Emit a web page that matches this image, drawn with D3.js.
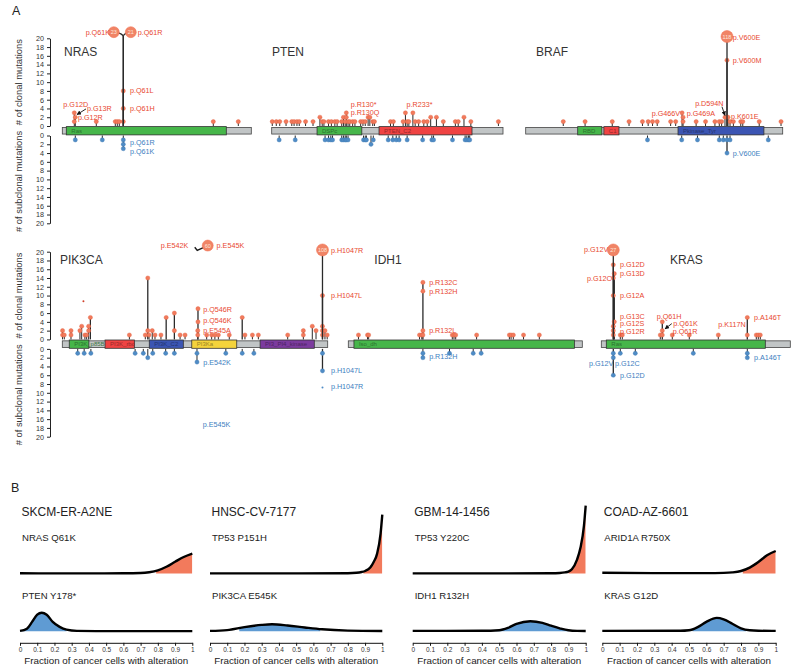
<!DOCTYPE html>
<html><head><meta charset="utf-8">
<script src="https://cdn.jsdelivr.net/npm/d3@7"></script>
<style>body{margin:0;background:#fff}svg{display:block}text{font-family:"Liberation Sans",Arial,Helvetica,sans-serif}</style>
</head><body><svg id="c" width="800" height="670"></svg>
<script>
// ================= DATA =================
const genes = ["NRAS","PTEN","BRAF","PIK3CA","IDH1","KRAS"];
const proteinLengths = [189,403,766,1068,414,189];
const domains = [
 ["NRAS","Ras",4,164,"green"],
 ["PTEN","DSPc",79,157,"green"],
 ["PTEN","PTEN_C2",187,349,"red"],
 ["BRAF","RBD",155,227,"green"],
 ["BRAF","C1",233,278,"red"],
 ["BRAF","Pkinase_Tyr",454,710,"blue"],
 ["PIK3CA","PI3K_p85B",28,107,"green"],
 ["PIK3CA","PI3K_rbd",172,290,"red"],
 ["PIK3CA","PI3K_C2",350,487,"blue"],
 ["PIK3CA","PI3Ka",521,702,"yellow"],
 ["PIK3CA","PI3_PI4_kinase",796,1014,"purple"],
 ["IDH1","Iso_dh",10,400,"green"],
 ["KRAS","Ras",5,164,"green"]
];
const yTicks = [0,2,4,6,8,10,12,14,16,18,20];

// [amino-acid position, number of mutations]
const nrasClonal = [[12,3],[13,2],[12,1],[34,1],[53,1],[55,1],[57,1],[61,1],[61,4],[61,8],[151,1],[176,1]];
const nrasSub = [[13,1],[40,1],[61,1],[61,2],[61,3]];
const ptenClonal = [[1,1],[8,1],[14,1],[25,1],[35,1],[39,1],[44,1],[48,1],[59,1],[72,1],[84,2],[88,1],[91,1],[99,1],[104,1],[110,1],[114,1],[122,1],[125,2],[128,1],[130,3],[130,2],[133,1],[136,1],[141,1],[145,1],[155,1],[159,1],[163,1],[168,2],[171,2],[176,1],[179,1],[207,1],[212,1],[229,1],[233,3],[236,1],[239,1],[246,3],[250,1],[256,1],[265,1],[271,1],[277,2],[287,2],[299,1],[320,1],[325,1],[335,2],[347,1],[395,1]];
const ptenSub = [[13,1],[41,1],[93,1],[99,1],[103,1],[106,1],[122,1],[125,1],[128,1],[130,1],[133,1],[160,1],[163,1],[165,1],[173,2],[177,1],[203,1],[211,1],[217,1],[222,1],[236,1],[263,1],[279,1],[282,1],[315,1],[337,1],[340,1],[343,1],[345,1]];
const brafClonal = [[112,1],[177,1],[258,1],[308,1],[348,1],[365,1],[378,1],[392,1],[432,1],[447,1],[466,3],[469,2],[469,1],[508,1],[536,1],[564,1],[577,1],[584,1],[594,2],[600,2],[600,15],[603,2],[609,1],[619,1],[641,1],[647,1],[696,1],[761,1]];
const brafSub = [[363,1],[465,1],[512,1],[577,1],[589,1],[600,1],[600,4],[609,1],[723,1]];
const pik3caClonal = [[1,2],[1,1],[8,1],[35,2],[35,1],[71,2],[78,3],[91,1],[98,1],[106,3],[106,2],[113,5],[270,1],[334,1],[344,14],[344,2],[349,1],[362,2],[373,1],[397,1],[418,5],[451,6],[451,2],[474,1],[494,1],[545,1],[545,2],[546,4],[546,7],[581,1],[601,1],[614,1],[628,1],[672,1],[724,5],[735,1],[765,1],[789,1],[907,1],[970,2],[970,1],[1006,3],[1021,2],[1047,10],[1047,3],[1047,2],[1047,1],[1057,2],[1066,1]];
const pik3caSub = [[62,1],[88,1],[115,1],[293,1],[326,1],[344,2],[364,1],[416,1],[451,1],[542,1],[542,3],[658,1],[724,1],[771,1],[1047,1],[1047,5]];
const pik3caFaint = [["c",85,8.7],["s",1047,8.8]];
const idh1Clonal = [[18,1],[34,1],[36,1],[126,1],[130,1],[132,13],[132,11],[132,2],[132,1],[184,1],[187,1],[190,1],[227,1],[285,1],[288,1],[292,1],[310,1],[338,1]];
const idh1Sub = [[132,1],[132,2],[179,1],[221,1],[235,1]];
const krasClonal = [[12,17],[13,15],[12,14],[12,10],[13,4],[12,3],[12,2],[12,1],[19,1],[21,1],[59,1],[61,4],[61,2],[61,1],[71,1],[88,1],[117,1],[146,5],[146,1],[155,1],[157,1],[159,1]];
const krasSub = [[12,1],[12,2],[12,6],[19,1],[34,1],[92,1],[146,1],[146,2]];

// hotspots above the axis: [gene, name, position, count, drawn without stem]
const bigMutations = [
 ["NRAS","Q61K",61,23,0],["NRAS","Q61R",61,21,0],
 ["BRAF","V600E",600,118,0],
 ["PIK3CA","E545K",545,60,1],["PIK3CA","H1047R",1047,108,0],
 ["KRAS","G12V",12,27,0]
];

// annotations: [text, position, count level, anchor, track]
const nrasLabels = [["p.G12D",1,4.8,"start","c"],["p.G13R",24.7,3.9,"start","c"],["p.G12R",15.7,2,"start","c"],["p.Q61L",67.7,8,"start","c"],["p.Q61H",67.7,4,"start","c"],["p.Q61K",47.7,21.4,"end","c"],["p.Q61R",75.4,21.4,"start","c"],["p.Q61R",67.7,1.7,"start","s"],["p.Q61K",67.7,3.6,"start","s"]];
const ptenLabels = [["p.R130*",137.6,4.9,"start","c"],["p.R130Q",137.6,3.1,"start","c"],["p.R233*",235,4.8,"start","c"]];
const brafLabels = [["p.V600E",617,20.1,"start","c"],["p.V600M",617,15,"start","c"],["p.G466V",460,2.9,"end","c"],["p.G469A",480,2.9,"start","c"],["p.D594N",505,5.2,"start","c"],["p.K601E",612,2.1,"start","c"],["p.V600E",617,4,"start","s"]];
const pik3caLabels = [["p.E542K",507,21.5,"end","c"],["p.E545K",621,21.5,"start","c"],["p.H1047R",1081,20.2,"start","c"],["p.H1047L",1081,10,"start","c"],["p.Q546R",567,6.9,"start","c"],["p.Q546K",567,4.3,"start","c"],["p.E545A",567,2.1,"start","c"],["p.E542K",567,3,"start","s"],["p.H1047L",1081,5,"start","s"],["p.H1047R",1081,8.6,"start","s"],["p.E545K",565,17.2,"start","s"]];
const idh1Labels = [["p.R132C",143,13,"start","c"],["p.R132H",143,11,"start","c"],["p.R132L",143,2,"start","c"],["p.R132H",143,1.8,"start","s"]];
const krasLabels = [["p.G12V",7,20.4,"end","c"],["p.G12D",18.7,17.1,"start","c"],["p.G13D",18.7,15,"start","c"],["p.G12C",10.4,14,"end","c"],["p.G12A",18.7,10,"start","c"],["p.G13C",18.7,5.3,"start","c"],["p.G12S",18.7,3.6,"start","c"],["p.G12R",18.7,1.9,"start","c"],["p.Q61H",55.4,5.3,"start","c"],["p.Q61K",72,3.7,"start","c"],["p.Q61R",71.4,1.9,"start","c"],["p.K117N",117,3.3,"start","c"],["p.A146T",152.7,5.1,"start","c"],["p.G12V",12,3.3,"end","s"],["p.G12C",13.7,3.3,"start","s"],["p.G12D",18.7,6.1,"start","s"],["p.A146T",152.7,1.9,"start","s"]];
// arrows: [gene, fromPos, fromCount, toPos, toCount]
const arrows = [["NRAS",23.7,3.9,14.7,2.6],["BRAF",585,4.4,594,2.4],["KRAS",70.5,3.6,63.7,2.4]];

// Panel B
const samples = ["SKCM-ER-A2NE","HNSC-CV-7177","GBM-14-1456","COAD-AZ-6601"];
const clonalMuts = ["NRAS Q61K","TP53 P151H","TP53 Y220C","ARID1A R750X"];
const subclonalMuts = ["PTEN Y178*","PIK3CA E545K","IDH1 R132H","KRAS G12D"];
const ccfTicks = [0,0.1,0.2,0.3,0.4,0.5,0.6,0.7,0.8,0.9,1];
const clonalDensity = [
 [[0,0.15],[0.2,0.1],[0.4,0.1],[0.6,0.15],[0.7,0.3],[0.75,0.7],[0.8,1.6],[0.85,3.4],[0.9,5.9],[0.95,8.3],[1,10]],
 [[0,0.1],[0.5,0.1],[0.8,0.2],[0.85,0.4],[0.88,0.8],[0.9,1.3],[0.93,3],[0.95,5.8],[0.97,10],[0.99,20],[1,29.5]],
 [[0,0.1],[0.5,0.1],[0.8,0.15],[0.85,0.3],[0.88,0.6],[0.9,1],[0.92,2.2],[0.95,7],[0.97,13],[0.99,24],[1,34]],
 [[0,0.4],[0.3,0.25],[0.6,0.25],[0.7,0.35],[0.75,0.6],[0.8,1.3],[0.85,3],[0.9,5.8],[0.95,9.2],[1,11.3]]
];
const subclonalDensity = [
 [[0,0.2],[0.04,1.3],[0.07,4.7],[0.1,8.3],[0.126,9.3],[0.155,8.3],[0.19,4.7],[0.23,2.2],[0.27,0.8],[0.33,0.2],[0.5,0.1],[1,0.1]],
 [[0,0.2],[0.1,0.6],[0.2,2.1],[0.3,3.2],[0.36,3.5],[0.45,2.9],[0.55,1.9],[0.65,1],[0.8,0.35],[1,0.15]],
 [[0,0.2],[0.4,0.25],[0.5,0.55],[0.55,1.7],[0.6,3.7],[0.68,5],[0.75,4.2],[0.8,2.8],[0.85,1.5],[0.9,0.5],[0.95,0.2],[1,0.15]],
 [[0,0.2],[0.45,0.25],[0.5,0.5],[0.55,2.1],[0.6,4.7],[0.66,6.7],[0.7,6],[0.75,3.8],[0.8,1.5],[0.85,0.5],[0.9,0.25],[1,0.2]]
];
const clonalCI = [[0.79,1],[0.89,1],[0.9,1],[0.81,1]];
const subclonalCI = [[0,0.27],[0.17,0.64],[0.48,0.9],[0.52,0.83]];

// ================= LAYOUT / STYLE =================
const COL = {green:"#46B64A",red:"#EF4343",blue:"#3B55B3",yellow:"#F4D33C",purple:"#7C3B9E",gray:"#C1C5C6"};
const RED="#F27A5C", REDTXT="#E8472F", BLUE="#4F8CC6", BLUETXT="#3C7EC0";
const LABEL_FS = 7.2;
const ROW = [{c0:126,c20:38.3,s0:135.5,s20:223.3},{c0:339.4,c20:251.7,s0:348.9,s20:436.7}];
const panelLayout = {
 NRAS:{row:0,x:[62.3,251.3],title:[64,52]},
 PTEN:{row:0,x:[271.7,503],title:[272,52]},
 BRAF:{row:0,x:[525.7,782.7],title:[536,52]},
 PIK3CA:{row:1,x:[62.3,327.7],title:[60,259.5]},
 IDH1:{row:1,x:[348.3,582.3],title:[374.3,259.5]},
 KRAS:{row:1,x:[601.3,790.3],title:[670,259.5]}
};
const bigOffsetPx = {"NRAS Q61K":-9.5,"NRAS Q61R":7.5,"PIK3CA E545K":10};
const geneData = {
 NRAS:{c:nrasClonal,s:nrasSub,labels:nrasLabels},
 PTEN:{c:ptenClonal,s:ptenSub,labels:ptenLabels},
 BRAF:{c:brafClonal,s:brafSub,labels:brafLabels},
 PIK3CA:{c:pik3caClonal,s:pik3caSub,labels:pik3caLabels,faint:pik3caFaint},
 IDH1:{c:idh1Clonal,s:idh1Sub,labels:idh1Labels},
 KRAS:{c:krasClonal,s:krasSub,labels:krasLabels}
};

const svg = d3.select("#c");
const defs = svg.append("defs");
defs.append("marker").attr("id","ah").attr("viewBox","0 0 10 10").attr("refX",9).attr("refY",5)
 .attr("markerWidth",5).attr("markerHeight",5).attr("orient","auto")
 .append("path").attr("d","M0,0L10,5L0,10z").attr("fill","#111");

svg.append("text").attr("x",12).attr("y",15).attr("font-size",12.5).attr("fill","#222").text("A");
svg.append("text").attr("x",11).attr("y",492).attr("font-size",12.5).attr("fill","#222").text("B");

// y axes
ROW.forEach(r=>{
 const yC = d3.scaleLinear().domain([0,20]).range([r.c0,r.c20]);
 const yS = d3.scaleLinear().domain([0,20]).range([r.s0,r.s20]);
 [yC,yS].forEach(y=>{
  const g = svg.append("g").attr("transform","translate(50,0)")
   .call(d3.axisLeft(y).tickValues(yTicks).tickSize(3).tickPadding(3).tickSizeOuter(0));
  g.select(".domain").attr("stroke","#222");
  g.selectAll("line").attr("stroke","#222");
  g.selectAll("text").attr("font-size",7.2).attr("fill","#333").attr("font-family","Liberation Sans,Arial,sans-serif");
 });
 svg.append("text").attr("transform",`translate(22,${(r.c0+r.c20)/2}) rotate(-90)`).attr("text-anchor","middle")
  .attr("font-size",9.4).attr("fill","#333").text("# of clonal mutations");
 svg.append("text").attr("transform",`translate(22,${(r.s0+r.s20)/2+2}) rotate(-90)`).attr("text-anchor","middle")
  .attr("font-size",9.4).attr("fill","#333").text("# of subclonal mutations");
});

genes.forEach((g,gi)=>{
 const L = proteinLengths[gi], lay = panelLayout[g], r = ROW[lay.row];
 const x = d3.scaleLinear().domain([0,L]).range(lay.x);
 const yC = d3.scaleLinear().domain([0,20]).range([r.c0,r.c20]);
 const yS = d3.scaleLinear().domain([0,20]).range([r.s0,r.s20]);
 const Y = {c:yC,s:yS};
 const G = svg.append("g");
 const mid = (r.c0+r.s0)/2;
 G.append("text").attr("x",lay.title[0]).attr("y",lay.title[1]+4.3).attr("font-size",12).attr("fill","#333").text(g);
 // backbone + domains
 G.append("rect").attr("x",x(0)).attr("y",mid-3.3).attr("width",x(L)-x(0)).attr("height",6.6)
  .attr("fill",COL.gray).attr("stroke","#444").attr("stroke-width",0.8);
 domains.filter(d=>d[0]===g).forEach(d=>{
  G.append("rect").attr("x",x(d[2])).attr("y",r.c0+0.6).attr("width",x(d[3])-x(d[2])).attr("height",r.s0-r.c0-1.2)
   .attr("fill",COL[d[4]]).attr("stroke","#333").attr("stroke-width",0.8);
  G.append("text").attr("x",x(d[2])+5).attr("y",mid+2.1).attr("font-size",6).attr("fill",d3.color(COL[d[4]]).darker(1.6))
   .attr("opacity",0.85).text(d[1]);
 });
 const dd = geneData[g];
 ["c","s"].forEach(t=>{
  const pts = dd[t], y = Y[t];
  const maxBy = d3.rollup(pts, v=>d3.max(v,p=>p[1]), p=>p[0]);
  maxBy.forEach((m,aa)=>{
   G.append("line").attr("x1",x(aa)).attr("x2",x(aa)).attr("y1",y(0)).attr("y2",y(m))
    .attr("stroke","#2a2a2a").attr("stroke-width",m>3?1.3:1);
  });
  pts.forEach(p=>{
   G.append("circle").attr("cx",x(p[0])).attr("cy",y(p[1])).attr("r",2.1)
    .attr("fill",t==="c"?RED:BLUE).attr("stroke",t==="c"?"#e0603f":"#3f78b0").attr("stroke-width",0.4);
  });
 });
 (dd.faint||[]).forEach(f=>{
  G.append("circle").attr("cx",x(f[1])).attr("cy",Y[f[0]](f[2])).attr("r",1).attr("fill",f[0]==="c"?"#d0402a":BLUE);
 });
 // big hotspots
 bigMutations.filter(b=>b[0]===g).forEach(b=>{
  const off = bigOffsetPx[g+" "+b[1]]||0;
  const sx = x(b[2]);
  const cx = sx+off, cy = off? yC(21.4): yC(20.4);
  if(!b[4]) {
   G.append("line").attr("x1",sx).attr("x2",sx).attr("y1",yC(0)).attr("y2",off?yC(20.6):cy)
    .attr("stroke","#2a2a2a").attr("stroke-width",1.3);
   if(off) G.append("path").attr("d",`M${sx},${yC(20.6)}Q${sx+off*0.4},${yC(21.4)} ${cx},${cy}`)
    .attr("fill","none").attr("stroke","#2a2a2a").attr("stroke-width",1.3);
  } else {
   G.append("path").attr("d",`M${sx-3},${yC(21)}L${sx-0.5},${yC(20.3)}L${cx},${cy}`)
    .attr("fill","none").attr("stroke","#1a1a1a").attr("stroke-width",1.4);
  }
  G.append("circle").attr("cx",cx).attr("cy",cy).attr("r",off?5.5:6).attr("fill","#F08466").attr("stroke","#f26b4a").attr("stroke-width",0.5);
  G.append("text").attr("x",cx).attr("y",cy+2).attr("text-anchor","middle").attr("font-size",5.5).attr("fill","#fde6dc").text(b[3]);
 });
 dd.labels.forEach(l=>{
  G.append("text").attr("x",x(l[1])).attr("y",Y[l[4]](l[2])+2.5).attr("text-anchor",l[3])
   .attr("font-size",LABEL_FS).attr("fill",l[4]==="c"?REDTXT:BLUETXT).text(l[0]);
 });
 arrows.filter(a=>a[0]===g).forEach(a=>{
  G.append("line").attr("x1",x(a[1])).attr("y1",yC(a[2])).attr("x2",x(a[3])).attr("y2",yC(a[4]))
   .attr("stroke","#111").attr("stroke-width",0.9).attr("marker-end","url(#ah)");
 });
});

// ================= PANEL B =================
const colX = [[20,192.3],[210,382.3],[412.7,585.7],[602.3,775.7]];
const upperBase = 573.6, lowerBase = 631.3, axisY = 642.8;
samples.forEach((s,i)=>{
 const x = d3.scaleLinear().domain([0,1]).range(colX[i]);
 const G = svg.append("g");
 G.append("text").attr("x",colX[i][0]+1.5).attr("y",516.3).attr("font-size",12).attr("fill","#222").text(s);
 G.append("text").attr("x",colX[i][0]+2).attr("y",540.8).attr("font-size",9.6).attr("fill","#222").text(clonalMuts[i]);
 G.append("text").attr("x",colX[i][0]+2).attr("y",598.6).attr("font-size",9.6).attr("fill","#222").text(subclonalMuts[i]);
 [[clonalDensity[i],clonalCI[i],upperBase,RED],[subclonalDensity[i],subclonalCI[i],lowerBase,"#5F9BD3"]].forEach(([dens,ci,base,fill],k)=>{
  const y = d3.scaleLinear().domain([0,35]).range([base,base-70]);
  const id = `clip${i}_${k}`;
  defs.append("clipPath").attr("id",id).append("rect").attr("x",x(ci[0])).attr("y",base-80).attr("width",x(ci[1])-x(ci[0])).attr("height",82);
  const area = d3.area().x(d=>x(d[0])).y0(y(0)).y1(d=>y(d[1])).curve(d3.curveMonotoneX);
  const line = d3.line().x(d=>x(d[0])).y(d=>y(d[1])).curve(d3.curveMonotoneX);
  G.append("path").attr("d",area(dens)).attr("fill",fill).attr("clip-path",`url(#${id})`);
  G.append("path").attr("d",line(dens)).attr("fill","none").attr("stroke","#000").attr("stroke-width",2.4).attr("stroke-linejoin","round");
 });
 const ax = G.append("g").attr("transform",`translate(0,${axisY})`)
  .call(d3.axisBottom(x).tickValues(ccfTicks).tickFormat(d3.format("~g")).tickSize(3).tickPadding(1.5).tickSizeOuter(0));
 ax.select(".domain").attr("stroke","#111").attr("stroke-width",1);
 ax.selectAll("line").attr("stroke","#111");
 ax.selectAll("text").attr("font-size",6.5).attr("fill","#333").attr("font-family","Liberation Sans,Arial,sans-serif");
 G.append("text").attr("x",(colX[i][0]+colX[i][1])/2).attr("y",664.3).attr("text-anchor","middle")
  .attr("font-size",9.8).attr("fill","#222").text("Fraction of cancer cells with alteration");
});
</script></body></html>
